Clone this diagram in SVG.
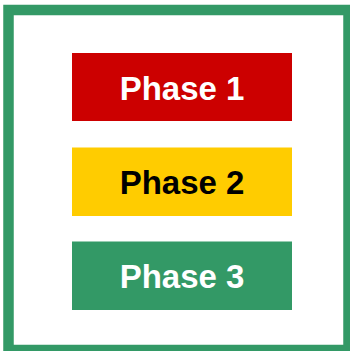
<svg xmlns="http://www.w3.org/2000/svg" width="350" height="351" viewBox="0 0 350 351">
<style>
.box{stroke:none}
.lbl{font-family:"Liberation Sans",Arial,sans-serif;font-weight:bold;font-size:33px;text-anchor:middle}
</style>
<rect x="0" y="0" width="350" height="351" fill="#ffffff"/>
<g id="frame"><rect x="8.5" y="10" width="340" height="340" fill="none" stroke="#339966" stroke-width="10.5"/></g>
<g id="connectors"></g>
<g id="phase1"><rect class="box" x="72" y="53" width="220" height="68" fill="#cc0000"/><text class="lbl" x="182" y="100" fill="#ffffff">Phase 1</text></g>
<g id="phase2"><rect class="box" x="72" y="147.5" width="220" height="68.5" fill="#ffcc00"/><text class="lbl" x="182" y="194" fill="#000000">Phase 2</text></g>
<g id="phase3"><rect class="box" x="72" y="241.5" width="220" height="68.5" fill="#339966"/><text class="lbl" x="182" y="288" fill="#ffffff">Phase 3</text></g>
</svg>
